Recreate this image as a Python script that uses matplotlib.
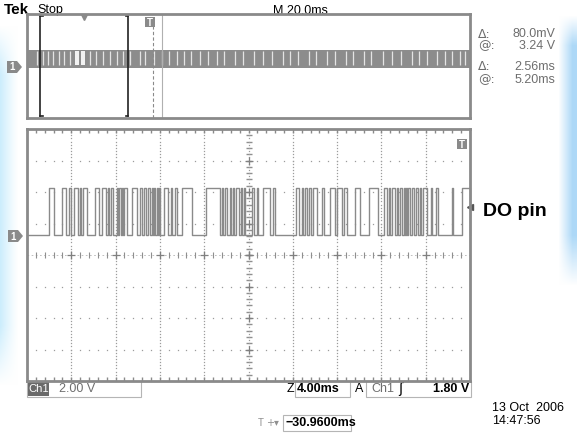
import numpy as np
import matplotlib
matplotlib.use('Agg')
import matplotlib.pyplot as plt
from matplotlib.patches import Rectangle, Polygon

# DO pin in the zoom window, times in ms from the zoom centre
rise_ms = [-18.0, -16.8, -16.2, -15.8, -15.2, -14.9, -13.9, -13.2, -12.7, -12.4,
           -11.9, -11.7, -11.4, -11.2, -10.5, -9.8, -9.4, -9.1, -8.7, -8.5,
           -8.3, -8.1, -7.6, -7.0, -6.6, -6.0, -3.8, -2.4, -2.1, -1.7,
           -1.4, -1.1, -0.7, -0.4, 0.3, 0.8, 1.3, 2.2, 4.3, 4.8,
           5.1, 5.5, 5.8, 6.6, 7.4, 8.0, 8.6, 9.6, 10.9, 12.2,
           12.7, 13.0, 13.4, 13.7, 14.0, 14.2, 14.4, 14.8, 15.1, 15.5,
           15.8, 16.5, 16.9, 18.4, 19.3]
fall_ms = [-17.6, -16.5, -16.0, -15.4, -15.1, -14.6, -13.5, -12.9, -12.6, -12.2,
           -11.8, -11.5, -11.3, -11.0, -10.1, -9.6, -9.3, -8.9, -8.6, -8.4,
           -8.2, -8.0, -7.3, -6.9, -6.5, -5.1, -2.6, -2.3, -1.9, -1.6,
           -1.3, -0.9, -0.6, -0.3, 0.5, 0.9, 1.9, 2.4, 4.6, 4.9,
           5.3, 5.6, 6.2, 6.8, 7.8, 8.4, 8.9, 10.1, 11.7, 12.5,
           12.8, 13.2, 13.5, 13.9, 14.1, 14.3, 14.6, 14.9, 15.3, 15.6,
           16.1, 16.6, 17.1, 18.5, 20.0]
v_low = 0.0
v_high = 3.0

# whole record (200 ms) on the top strip: where the pulse band opens up
gap_ms = [4.4, 7.4, 9.4, 11.9, 14.4, 16.9, 19.4, 28.5, 31.3, 34.3, 37.6, 40.6,
          43.4, 46.7, 50.9, 53.4, 57.5, 60.9, 64.2, 67.5, 70.8, 74.1, 78.3, 81.6,
          85.7, 89.1, 94.0, 97.4, 102.4, 106.5, 110.7, 115.6, 118.9, 122.3, 127.2,
          130.6, 135.6, 138.9, 143.9, 147.2, 152.2, 155.5, 160.5, 164.6, 168.7,
          173.7, 177.0, 180.4, 185.3, 188.7, 192.0, 195.3, 197.8]
wide_gaps = [(21.8, 23.4), (24.4, 26.0)]
record_ms = 200.0
zoom_center_ms = 25.8
zoom_span_ms = 40.0
trigger_ms = 56.8
cursor_ms = 61.0

volts_per_div = 2.0
ground_div = 0.635
trigger_level_v = 1.80

W, H = 577, 433
GRAY = '#8a8a8a'
TXT = '#6e6e6e'
FONT = 'Liberation Sans'

fig = plt.figure(figsize=(W / 100, H / 100), dpi=100)

# background with the pale blue edges, also used for all pixel-placed text
bg = fig.add_axes([0, 0, 1, 1], zorder=0)
bg.set_xlim(0, W)
bg.set_ylim(H, 0)
bg.axis('off')
yy, xx = np.mgrid[0:H, 0:W]
left = np.clip(1 - xx / 18.0, 0, 1) ** 1.2 * np.clip((yy - 25) / 50.0, 0, 1) * np.clip((385 - yy) / 60.0, 0, 1)
right = np.clip((xx - 558) / 14.0, 0, 1) * np.clip((yy - 15) / 30.0, 0, 1) * np.clip((285 - yy) / 50.0, 0, 1)
img = np.ones((H, W, 3))
for c, (lc, rc) in enumerate(zip((0.80, 0.93, 0.99), (0.68, 0.85, 0.97))):
    img[..., c] = img[..., c] * (1 - left) + lc * left
    img[..., c] = img[..., c] * (1 - right) + rc * right
bg.imshow(img, extent=(0, W, H, 0), aspect='auto', zorder=0)


def ch_marker(x, y, label='1'):
    bg.add_patch(Polygon([(x, y - 6), (x + 10, y - 6), (x + 15, y), (x + 10, y + 6), (x, y + 6)],
                         closed=True, facecolor=GRAY, edgecolor='none', zorder=3))
    bg.text(x + 5.5, y + 0.5, label, color='white', fontsize=7, fontweight='bold',
            ha='center', va='center', family=FONT, zorder=4)


def t_icon(x, y):
    bg.add_patch(Rectangle((x - 5, y - 5), 10, 10, facecolor=GRAY, edgecolor='none', zorder=3))
    bg.text(x, y + 0.5, 'T', color='white', fontsize=7, fontweight='bold',
            ha='center', va='center', family=FONT, zorder=4)


# header
bg.text(4, 10, 'Tek', fontsize=11, fontweight='bold', va='center', family=FONT)
bg.text(37, 10, 'Stop', fontsize=9, va='center', family=FONT)
bg.text(300, 11, 'M 20.0ms', fontsize=9, ha='center', va='center', family=FONT)

# cursor readouts
for y, sym, val in [(34, 'Δ:', '80.0mV'), (46, '@:', '3.24 V'),
                    (67, 'Δ:', '2.56ms'), (80, '@:', '5.20ms')]:
    bg.text(478, y, sym, fontsize=9, color=TXT, va='center', family='DejaVu Sans')
    bg.text(555, y, val, fontsize=9, color=TXT, va='center', ha='right', family=FONT)

# ---- top strip: whole record
ax_top = fig.add_axes([27 / W, 1 - 118 / H, 443 / W, 104 / H], zorder=1)
ax_top.set_facecolor('none')
ax_top.set_xlim(0, record_ms)
ax_top.set_ylim(-8.33, 9.0)
ax_top.set_xticks([])
ax_top.set_yticks([])
for s in ax_top.spines.values():
    s.set_color(GRAY)
    s.set_linewidth(2)
ax_top.fill_between([0, record_ms], v_low, v_high, color='#8c8c8c', lw=0)
ax_top.vlines(gap_ms, v_low + 0.5, v_high - 0.2, colors='#e4e4e4', lw=0.9)
for a, b in wide_gaps:
    ax_top.fill_between([a, b], v_low + 0.5, v_high - 0.2, color='#f2f2f2', lw=0)
z0 = zoom_center_ms - zoom_span_ms / 2
z1 = zoom_center_ms + zoom_span_ms / 2
for x, d in [(z0, 1), (z1, -1)]:
    ax_top.plot([x, x], [-8.0, 8.7], color='#222222', lw=1.2)
    ax_top.plot([x, x + d * 1.2], [8.7, 8.7], color='#222222', lw=1.2)
    ax_top.plot([x, x + d * 1.2], [-8.0, -8.0], color='#222222', lw=1.2)
ax_top.plot([zoom_center_ms], [8.6], marker='v', color=GRAY, ms=6)
ax_top.plot([trigger_ms, trigger_ms], [-8.33, 7.0], color=GRAY, lw=0.8, ls=(0, (3, 2)))
ax_top.plot([cursor_ms, cursor_ms], [-8.33, 9.0], color='#b0b0b0', lw=0.8)
t_icon(27 + trigger_ms / record_ms * 443 - 3, 22)
ch_marker(7, 67)

# ---- main zoomed window
ax = fig.add_axes([27 / W, 1 - 381 / H, 443 / W, 252 / H], zorder=1)
ax.set_facecolor('none')
ax.set_xlim(-zoom_span_ms / 2, zoom_span_ms / 2)
ax.set_ylim((-4 - ground_div) * volts_per_div, (4 - ground_div) * volts_per_div)
ax.set_xticks([])
ax.set_yticks([])
for s in ax.spines.values():
    s.set_color(GRAY)
    s.set_linewidth(2)

# graticule, in axes fractions
tr = ax.transAxes
dot = dict(color='#9c9c9c', marker='s', ms=0.9, mew=0, ls='none', transform=tr)
minor_x = np.arange(1, 50) / 50
fine_y = np.arange(1, 80) / 80
minor_y = np.arange(1, 40) / 40
for k in range(1, 10):
    if k != 5:
        ax.plot(np.full(79, k / 10), fine_y, **dot)
for j in range(1, 8):
    if j != 4:
        ax.plot(minor_x, np.full(49, j / 8), **dot)
ax.plot([0, 1], [0.5, 0.5], color='#b5b5b5', lw=0.6, ls=(0, (2, 3)), transform=tr)
ax.plot(minor_x, np.full(49, 0.5), color='#8f8f8f', marker='|', ms=4, mew=0.8, ls='none', transform=tr)
ax.plot(np.full(39, 0.5), minor_y, color='#8f8f8f', marker='_', ms=4, mew=1.0, ls='none', transform=tr)
ax.plot(np.full(79, 0.5), fine_y, **dot)
major_x = np.arange(1, 10) / 10
major_y = np.arange(1, 8) / 8
ax.plot(major_x, np.full(9, 0.5), color='#808080', marker='+', ms=6, mew=0.9, ls='none', transform=tr)
ax.plot(np.full(7, 0.5), major_y, color='#808080', marker='+', ms=6, mew=0.9, ls='none', transform=tr)
edge = np.arange(0, 51) / 50
edge_y = np.arange(0, 41) / 40
ax.plot(edge, np.ones(51), color=GRAY, marker=3, ms=3, ls='none', transform=tr)
ax.plot(edge, np.zeros(51), color=GRAY, marker=2, ms=3, ls='none', transform=tr)
ax.plot(np.zeros(41), edge_y, color=GRAY, marker=0, ms=3, ls='none', transform=tr)
ax.plot(np.ones(41), edge_y, color=GRAY, marker=1, ms=3, ls='none', transform=tr)

t = [-zoom_span_ms / 2]
v = [v_low]
for r, f in zip(rise_ms, fall_ms):
    t += [r, r, f, f]
    v += [v_low, v_high, v_high, v_low]
t.append(zoom_span_ms / 2)
v.append(v_low)
ax.plot(t, v, color='#8a8a8a', lw=1.0, clip_on=False)
ax.plot([zoom_span_ms / 2], [trigger_level_v], marker='<', color='#555555', ms=4, clip_on=False)

ch_marker(8, 236)
t_icon(462, 144)
bg.text(483, 211, 'DO pin', fontsize=14, fontweight='bold', va='center', family=FONT)

# ---- bottom readouts
bg.add_patch(Rectangle((27, 381), 114, 16, facecolor='none', edgecolor='#b5b5b5', lw=0.8))
bg.add_patch(Rectangle((28, 382), 21, 14, facecolor='#6a6a6a', edgecolor='none'))
bg.text(38.5, 389.5, 'Ch1', fontsize=8, color='white', ha='center', va='center', family=FONT)
bg.text(59, 389.5, '2.00 V', fontsize=9, color=TXT, va='center', family=FONT)
bg.text(287, 389.5, 'Z', fontsize=9, va='center', family=FONT)
bg.add_patch(Rectangle((295, 381), 55, 16, facecolor='none', edgecolor='#b5b5b5', lw=0.8))
bg.text(297, 389.5, '4.00ms', fontsize=9, fontweight='bold', va='center', family=FONT)
bg.text(355, 389.5, 'A', fontsize=9, va='center', family=FONT)
bg.add_patch(Rectangle((366, 381), 105, 16, facecolor='none', edgecolor='#b5b5b5', lw=0.8))
bg.text(371, 389.5, 'Ch1', fontsize=9, color=TXT, va='center', family=FONT)
bg.text(398, 389.5, 'ʃ', fontsize=10, va='center', family='DejaVu Sans')
bg.text(469, 389.5, '1.80 V', fontsize=9, fontweight='bold', va='center', ha='right', family=FONT)

bg.text(258, 423.5, 'T', fontsize=7, color='#909090', va='center', family=FONT)
bg.text(266, 423.5, '+▾', fontsize=7, color='#909090', va='center', family='DejaVu Sans')
bg.add_patch(Rectangle((283, 415), 68, 16, facecolor='none', edgecolor='#b5b5b5', lw=0.8))
bg.text(285, 423.5, '−30.9600ms', fontsize=9, fontweight='bold', va='center', family=FONT)

bg.text(492, 408, '13 Oct  2006', fontsize=9, va='center', family=FONT)
bg.text(492, 421, '14:47:56', fontsize=9, va='center', family=FONT)

fig.savefig('out.png', dpi=100)
